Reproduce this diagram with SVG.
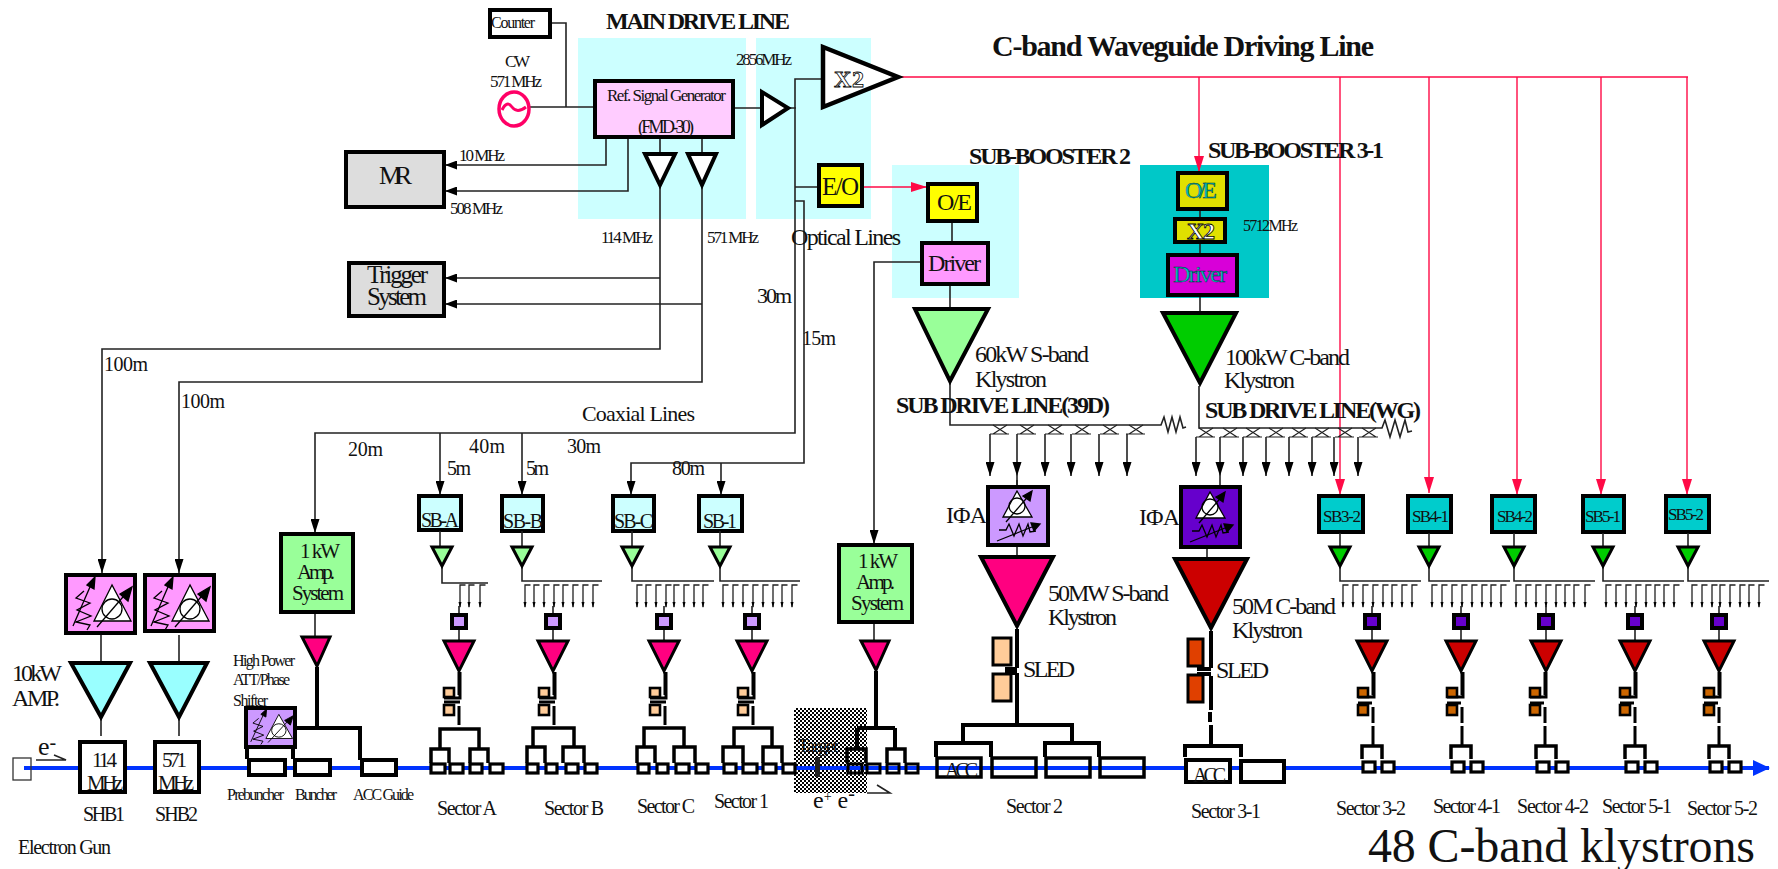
<svg xmlns="http://www.w3.org/2000/svg" width="1778" height="869" viewBox="0 0 1778 869">
<style>
text{font-family:"Liberation Serif","Times New Roman",serif;fill:#111}
.b{font-weight:bold}
.l,.l1,.l3,.r{fill:none;stroke-linejoin:miter}
.l{stroke:#222;stroke-width:1.6}
.l3{stroke:#000;stroke-width:4}
.r{stroke:#FF0A46;stroke-width:1.4}
.bx{stroke:#000;stroke-width:4}
.bx5{stroke:#000;stroke-width:4.5}
.w{fill:#fff}
.n{fill:none}
.o{fill:#FFF;stroke:#000;stroke-width:.8}
.c{fill:#00BFBF;stroke:#003333;stroke-width:.45}
</style>
<defs>
<pattern id="chk" width="4" height="4" patternUnits="userSpaceOnUse"><rect width="4" height="4" fill="#fff"/><rect width="2" height="2" fill="#000"/><rect x="2" y="2" width="2" height="2" fill="#000"/></pattern>
<marker id="a" markerUnits="userSpaceOnUse" markerWidth="12" markerHeight="9" refX="12" refY="4.5" orient="auto"><path d="M0,0L12,4.5L0,9z" fill="#000"/></marker>
<marker id="ad" markerUnits="userSpaceOnUse" markerWidth="14" markerHeight="9" refX="14" refY="4.5" orient="auto"><path d="M0,0L14,4.5L0,9z" fill="#000"/></marker>
<marker id="ar" markerUnits="userSpaceOnUse" markerWidth="16" markerHeight="10" refX="16" refY="5" orient="auto"><path d="M0,0L16,5L0,10z" fill="#FF0A46"/></marker>
<marker id="ab" markerUnits="userSpaceOnUse" markerWidth="17" markerHeight="16" refX="16" refY="8" orient="auto"><path d="M0,0L17,8L0,16z" fill="#0033FF"/></marker>
<g id="t"><path d="M0,607V585H5.5" fill="none" stroke="#222" stroke-width="1.3"/><path d="M-1.5,602L0,608L1.5,602z" fill="#000"/></g>
<g id="cp"><path d="M-7,0L7,9M7,0L-7,9M-10,9H9" fill="none" stroke="#222" stroke-width="1.2"/></g>
<g id="iconA" fill="none" stroke="#000" stroke-width="1.3"><path d="M47,11L29,47H66z" fill="#fff"/><circle cx="47" cy="35" r="10"/><path d="M32,53L64,16"/><path d="M55,20L67,13L63,27z" fill="#000"/><path d="M19,17L11,24L25,29L12,36L26,42L11,48L25,51L22,56"/><path d="M8,52L28,6"/><path d="M22,11L30,3L29,15z" fill="#000"/></g>
<g id="iconB" fill="none" stroke="#000" stroke-width="1.3"><path d="M30,5L16,31H45z" fill="#fff"/><circle cx="30" cy="20" r="8"/><path d="M19,36L44,7"/><path d="M36,10L45,5L43,15z" fill="#000"/><path d="M12,44L19,44L22,38L27,50L32,38L36,50L41,38L43,46L49,45"/><path d="M10,55L50,39"/><path d="M44,37L53,38L47,45z" fill="#000"/></g>
<g id="slS"><path d="M0,672V695M-15,698H1V672M-15,702H1M0,706L0,725" fill="none" stroke="#000" stroke-width="3"/><rect x="-15" y="688" width="10" height="9" fill="#FFCC99" stroke="#000" stroke-width="2.6"/><rect x="-15" y="705" width="10" height="10" fill="#FFCC99" stroke="#000" stroke-width="2.6"/></g>
<g id="slC"><path d="M0,672V695M-15,697H1V672M-15,703H-1M0,707V723M0,726V746" fill="none" stroke="#000" stroke-width="3"/><rect x="-15" y="688" width="10" height="9" fill="#CC6600" stroke="#000" stroke-width="2.6"/><rect x="-15" y="705" width="10" height="10" fill="#CC6600" stroke="#000" stroke-width="2.6"/></g>
<g id="pk"><path d="M0,606V615M0,629V640" class="l"/><rect x="-7" y="615" width="14" height="13" fill="#CC99FF" class="bx"/><path d="M-15,641H15L0,671z" fill="#FF0080" stroke="#000" stroke-width="3"/></g>
<g id="rk"><path d="M0,606V615M0,629V640" class="l"/><rect x="-7" y="615" width="14" height="13" fill="#6600CC" class="bx"/><path d="M-15,641H15L0,671z" fill="#CC0000" stroke="#000" stroke-width="3"/></g>
<g id="sbc"><path d="M0,533V546" class="l"/></g>
<g id="gtri"><path d="M-10,547H10L0,566z" fill="#99FF99" stroke="#000" stroke-width="3"/></g>
<g id="dtri"><path d="M-10,547H10L0,566z" fill="#00CC00" stroke="#000" stroke-width="3"/></g>
<g id="tree"><path d="M-10,759V746H10V759" fill="none" stroke="#000" stroke-width="3.5"/><rect x="-9" y="762" width="12" height="10" class="w" stroke="#000" stroke-width="3.2"/><rect x="10" y="762" width="12" height="10" class="w" stroke="#000" stroke-width="3.2"/></g>
</defs>

<g id="panels">
<rect x="578" y="38" width="168" height="181" fill="#CCFFFF"/>
<rect x="756" y="38" width="115" height="181" fill="#CCFFFF"/>
<rect x="892" y="165" width="127" height="133" fill="#CCFFFF"/>
<rect x="1140" y="165" width="129" height="133" fill="#00C8C8"/>
<rect x="794" y="708" width="73" height="85" fill="url(#chk)"/>
</g>

<g id="connectors">
<path class="l" d="M550,23H566V107M530,107H595M733,108H762M788,108H796M823,79H795V188M795,187H818"/>
<path class="l" d="M795,188V433H315V533" marker-end="url(#ad)"/>
<path class="l" d="M440,433V495" marker-end="url(#ad)"/>
<path class="l" d="M522,433V495" marker-end="url(#ad)"/>
<path class="l" d="M795,201H804V463H631V495" marker-end="url(#ad)"/>
<path class="l" d="M721,463V495" marker-end="url(#ad)"/>
<path class="l" d="M606,137V165H445" marker-end="url(#a)"/>
<path class="l" d="M628,137V191H445" marker-end="url(#a)"/>
<path class="l" d="M660,137V153M702,137V153"/>
<path class="l" d="M660,278H445" marker-end="url(#a)"/>
<path class="l" d="M702,304H445" marker-end="url(#a)"/>
<path class="l" d="M660,185V349H102V573" marker-end="url(#ad)"/>
<path class="l" d="M702,185V382H179V573" marker-end="url(#ad)"/>
<path class="l" d="M920,262H874V544" marker-end="url(#ad)"/>
<path class="r" d="M862,187H927" marker-end="url(#ar)"/>
<path class="r" d="M899,77H1688"/>
<path class="r" d="M1199,77V172" marker-end="url(#ar)"/>
<path class="r" d="M1340,77V495" marker-end="url(#ar)"/>
<path class="r" d="M1429,77V493" marker-end="url(#ar)"/>
<path class="r" d="M1517,77V495" marker-end="url(#ar)"/>
<path class="r" d="M1601,77V495" marker-end="url(#ar)"/>
<path class="r" d="M1687,77V495" marker-end="url(#ar)"/>
<path class="l" d="M952,221V242M950,284V308M950,383V425H1157"/>
<path class="l" d="M1157,425h4l3,-8l4,15l4,-15l4,15l4,-15l3,11l3,-1"/>
<use href="#cp" transform="translate(1000,425)"/><use href="#cp" transform="translate(1027,425)"/><use href="#cp" transform="translate(1055,425)"/><use href="#cp" transform="translate(1082,425)"/><use href="#cp" transform="translate(1110,425)"/><use href="#cp" transform="translate(1136,425)"/>
<path class="l" d="M990,434V476" marker-end="url(#ad)"/><path class="l" d="M1017,434V486"/><path d="M1012.5,462L1021.5,462L1017,476z" fill="#000"/><path class="l" d="M1045,434V476" marker-end="url(#ad)"/><path class="l" d="M1071,434V476" marker-end="url(#ad)"/><path class="l" d="M1099,434V476" marker-end="url(#ad)"/><path class="l" d="M1127,434V476" marker-end="url(#ad)"/>
<path class="l" d="M1200,209V218M1200,243V254M1200,296V312M1199,386V428H1377"/>
<path class="l" d="M1377,428h5l3,-8l5,17l5,-17l5,17l5,-17l3,12l4,-1"/>
<use href="#cp" transform="translate(1206,428)"/><use href="#cp" transform="translate(1230,428)"/><use href="#cp" transform="translate(1253,428)"/><use href="#cp" transform="translate(1276,428)"/><use href="#cp" transform="translate(1299,428)"/><use href="#cp" transform="translate(1322,428)"/><use href="#cp" transform="translate(1345,428)"/><use href="#cp" transform="translate(1369,428)"/>
<path class="l" d="M1196,437V476" marker-end="url(#ad)"/><path class="l" d="M1220,437V486"/><path d="M1215.5,462L1224.5,462L1220,476z" fill="#000"/><path class="l" d="M1243,437V476" marker-end="url(#ad)"/><path class="l" d="M1266,437V476" marker-end="url(#ad)"/><path class="l" d="M1289,437V476" marker-end="url(#ad)"/><path class="l" d="M1312,437V476" marker-end="url(#ad)"/><path class="l" d="M1334,437V476" marker-end="url(#ad)"/><path class="l" d="M1358,437V476" marker-end="url(#ad)"/>
<path class="l" d="M442,566V583H488M522,566V581H602M632,566V581H714M720,566V581H800"/>
<path class="l" d="M1340,566V581H1421M1429,566V581H1510M1514,566V581H1595M1603,566V581H1684M1688,566V581H1769"/>
<path class="l" d="M101,633V662M179,635V662M101,719V736M179,719V736M315,613V636M874,623V640M1017,480V556M1207,547V558"/>
<path class="l3" d="M317,667V728M296,728H360V760M247,747V759M293,747V759"/>
<path class="l3" d="M876,671V728M857,728H895M857,728V748M895,728V748"/>
<path d="M1017,629V668M1017,673V725M963,743V725H1072V743M936,757V743H991V757M1045,757V743H1099V757M1005,669H1017M1005,673H1017" class="l3"/>
<path d="M1211,631V668M1211,676V710M1210,712V722M1211,725V746M1185,757V746H1241V757M1197,669H1211M1197,674H1211" class="l3"/>
<path stroke="#0033FF" stroke-width="4" fill="none" d="M24,768H1769" marker-end="url(#ab)"/>
</g>

<g id="counter"><rect x="490" y="10" width="60" height="27" class="w bx"/><text x="491" y="28" font-size="16" textLength="44">Counter</text></g>
<g id="osc"><ellipse cx="514" cy="109" rx="15" ry="17" class="w" stroke="#FF0066" stroke-width="3.5"/><path d="M502,110Q507,100 512,107T526,107" fill="none" stroke="#FF0066" stroke-width="3"/><text x="505" y="67" font-size="17" textLength="25">CW</text><text x="490" y="87" font-size="17" textLength="52">571 MHz</text></g>
<g id="refgen"><rect x="595" y="81" width="138" height="56" fill="#FFCCFF" class="bx"/><text x="607" y="101" font-size="17" textLength="119">Ref. Signal Generator</text><text x="638" y="133" font-size="18" textLength="56">(FMD-30)</text></g>
<g id="buf"><path d="M762,92V125L788,108z" class="w bx"/></g>
<g id="x2main"><path d="M823,47V107L898,77z" class="w bx5"/><text x="834" y="87" font-size="24" textLength="30" class="o b">X2</text></g>
<g id="amp114"><path d="M645,154H675L660,185z" class="w bx"/></g>
<g id="amp571"><path d="M688,154H716L702,185z" class="w bx"/></g>
<g id="eo"><rect x="819" y="165" width="43" height="41" fill="#FFFF00" class="bx"/><text x="822" y="195" font-size="25" textLength="37">E/O</text></g>
<g id="mr"><rect x="346" y="152" width="98" height="55" fill="#DDDDDD" class="bx"/><text x="379" y="184" font-size="26" textLength="33">MR</text></g>
<g id="trigger"><rect x="349" y="263" width="95" height="53" fill="#DDDDDD" class="bx"/><text x="367" y="283" font-size="25" textLength="61">Trigger</text><text x="367" y="305" font-size="25" textLength="60">System</text></g>

<g id="sb2"><rect x="928" y="184" width="49" height="37" fill="#FFFF00" class="bx"/><text x="937" y="210" font-size="24" textLength="35">O/E</text><rect x="922" y="243" width="66" height="41" fill="#FF99FF" class="bx"/><text x="928" y="271" font-size="24" textLength="53">Driver</text><path d="M915,309H988L950,381z" fill="#99FF99" class="bx"/></g>
<g id="sb31"><rect x="1178" y="173" width="49" height="36" fill="#E0E000" class="bx"/><text x="1185" y="198" font-size="24" textLength="32" class="c">O/E</text><rect x="1175" y="219" width="50" height="23" fill="#E0E000" class="bx"/><text x="1187" y="239" font-size="24" textLength="28" class="o b">X2</text><rect x="1168" y="255" width="69" height="40" fill="#D800D8" class="bx"/><text x="1173" y="282" font-size="24" textLength="54" class="c">Driver</text><path d="M1163,313H1236L1200,383z" fill="#00CC00" class="bx"/></g>

<g id="phase1"><rect x="66" y="575" width="69" height="58" fill="#FF99FF" class="bx"/><use href="#iconA" transform="translate(65,574)"/></g>
<g id="phase2"><rect x="145" y="575" width="69" height="56" fill="#FF99FF" class="bx"/><use href="#iconA" transform="translate(143,574)"/></g>
<g id="amp10k1"><path d="M71,663H130L101,717z" fill="#99FFFF" class="bx"/></g>
<g id="amp10k2"><path d="M150,663H207L179,717z" fill="#99FFFF" class="bx"/></g>
<g id="gun"><rect x="13" y="758" width="18" height="22" class="n" stroke="#333" stroke-width="1.3"/></g>
<g id="shb1"><rect x="80" y="742" width="45" height="50" class="w bx"/><text x="92" y="767" font-size="21" textLength="25">114</text><text x="87" y="790" font-size="21" textLength="36">MHz</text></g>
<g id="shb2"><rect x="155" y="742" width="44" height="50" class="w bx"/><text x="162" y="767" font-size="21" textLength="25">571</text><text x="158" y="790" font-size="21" textLength="36">MHz</text></g>
<g id="hpatt"><rect x="246" y="708" width="49" height="39" fill="#CC99FF" class="bx"/><use href="#iconA" transform="translate(245,707) scale(.72,.67)"/></g>
<g id="prebuncher"><rect x="249" y="760" width="36" height="15" class="w bx"/></g>
<g id="buncher"><rect x="295" y="760" width="35" height="15" class="w bx"/></g>
<g id="accguide"><rect x="362" y="760" width="34" height="15" class="w bx"/></g>
<g id="amp1k1"><rect x="281" y="534" width="72" height="78" fill="#99FF99" class="bx"/><text x="300" y="558" font-size="21" textLength="40">1 kW</text><text x="297" y="579" font-size="21" textLength="38">Amp.</text><text x="292" y="600" font-size="21" textLength="52">System</text><path d="M302,637H330L317,666z" fill="#FF0080" stroke="#000" stroke-width="3"/></g>
<g id="amp1k2"><rect x="839" y="545" width="73" height="77" fill="#99FF99" class="bx"/><text x="858" y="568" font-size="21" textLength="40">1 kW</text><text x="856" y="589" font-size="21" textLength="39">Amp.</text><text x="851" y="610" font-size="21" textLength="53">System</text><path d="M861,641H889L876,670z" fill="#FF0080" stroke="#000" stroke-width="3"/></g>

<g id="sector-a"><rect x="419" y="496" width="42" height="34" fill="#CCFFFF" class="bx"/><text x="421" y="527" font-size="20" textLength="38">SB-A</text><path class="l" d="M440,531V547"/><use href="#gtri" transform="translate(442,0)"/><use href="#t" x="460"/><use href="#t" x="469"/><use href="#t" x="480"/><use href="#pk" transform="translate(459,0)"/><use href="#slS" transform="translate(459,0)"/><path d="M440,748V729H479V748M431,763V749H449V763M470,763V749H488V763" class="n" stroke="#000" stroke-width="3.5"/><rect x="431" y="764" width="14" height="9" class="w" stroke="#000" stroke-width="3.2"/><rect x="450" y="764" width="13" height="9" class="w" stroke="#000" stroke-width="3.2"/><rect x="470" y="764" width="12" height="9" class="w" stroke="#000" stroke-width="3.2"/><rect x="490" y="764" width="13" height="9" class="w" stroke="#000" stroke-width="3.2"/></g>
<g id="sector-b"><rect x="502" y="496" width="41" height="35" fill="#CCFFFF" class="bx"/><text x="503" y="528" font-size="20" textLength="40">SB-B</text><path class="l" d="M522,531V547"/><use href="#gtri" transform="translate(522,0)"/><use href="#t" x="525"/><use href="#t" x="534"/><use href="#t" x="544"/><use href="#t" x="554"/><use href="#t" x="563"/><use href="#t" x="573"/><use href="#t" x="583"/><use href="#t" x="593"/><use href="#pk" transform="translate(553,0)"/><use href="#slS" transform="translate(554,0)"/><path d="M533,747V728H574V747M527,763V747H545V763M563,763V747H584V763" class="n" stroke="#000" stroke-width="3.5"/><rect x="527" y="764" width="11" height="9" class="w" stroke="#000" stroke-width="3.2"/><rect x="546" y="764" width="11" height="9" class="w" stroke="#000" stroke-width="3.2"/><rect x="566" y="764" width="12" height="9" class="w" stroke="#000" stroke-width="3.2"/><rect x="585" y="764" width="12" height="9" class="w" stroke="#000" stroke-width="3.2"/></g>
<g id="sector-c"><rect x="613" y="496" width="41" height="35" fill="#CCFFFF" class="bx"/><text x="614" y="528" font-size="20" textLength="39">SB-C</text><path class="l" d="M632,531V547"/><use href="#gtri" transform="translate(632,0)"/><use href="#t" x="637"/><use href="#t" x="646"/><use href="#t" x="656"/><use href="#t" x="666"/><use href="#t" x="674"/><use href="#t" x="684"/><use href="#t" x="694"/><use href="#t" x="703"/><use href="#pk" transform="translate(664,0)"/><use href="#slS" transform="translate(665,0)"/><path d="M644,747V728H684V747M637,763V747H655V763M674,763V747H695V763" class="n" stroke="#000" stroke-width="3.5"/><rect x="638" y="764" width="11" height="9" class="w" stroke="#000" stroke-width="3.2"/><rect x="657" y="764" width="11" height="9" class="w" stroke="#000" stroke-width="3.2"/><rect x="676" y="764" width="13" height="9" class="w" stroke="#000" stroke-width="3.2"/><rect x="696" y="764" width="12" height="9" class="w" stroke="#000" stroke-width="3.2"/></g>
<g id="sector-1"><rect x="699" y="496" width="43" height="35" fill="#CCFFFF" class="bx"/><text x="703" y="528" font-size="20" textLength="34">SB-1</text><path class="l" d="M720,531V547"/><use href="#gtri" transform="translate(720,0)"/><use href="#t" x="723"/><use href="#t" x="733"/><use href="#t" x="743"/><use href="#t" x="753"/><use href="#t" x="763"/><use href="#t" x="773"/><use href="#t" x="782"/><use href="#t" x="792"/><use href="#pk" transform="translate(752,0)"/><use href="#slS" transform="translate(753,0)"/><path d="M734,747V728H772V747M723,763V747H743V763M763,763V747H782V763" class="n" stroke="#000" stroke-width="3.5"/><rect x="724" y="764" width="12" height="9" class="w" stroke="#000" stroke-width="3.2"/><rect x="743" y="764" width="14" height="9" class="w" stroke="#000" stroke-width="3.2"/><rect x="763" y="764" width="13" height="9" class="w" stroke="#000" stroke-width="3.2"/><rect x="783" y="764" width="12" height="9" class="w" stroke="#000" stroke-width="3.2"/></g>
<g id="target"><text x="798" y="752" font-size="18" textLength="40">Target</text><rect x="815" y="757" width="5" height="20" fill="#222"/><path d="M847,763V749H866V763M887,763V749H905V763" class="n" stroke="#000" stroke-width="3.5"/><rect x="848" y="764" width="14" height="9" class="n" stroke="#000" stroke-width="3"/><rect x="867" y="764" width="13" height="9" class="n" stroke="#000" stroke-width="3"/><rect x="887" y="764" width="12" height="9" class="n" stroke="#000" stroke-width="3"/><rect x="906" y="764" width="12" height="9" class="n" stroke="#000" stroke-width="3"/></g>

<g id="sector-2"><rect x="988" y="487" width="60" height="58" fill="#CC99FF" class="bx"/><use href="#iconB" transform="translate(987,486)"/><path d="M981,557H1053L1017,626z" fill="#FF0080" class="bx"/><rect x="993" y="638" width="18" height="27" fill="#FFCC99" stroke="#000" stroke-width="3"/><rect x="993" y="674" width="18" height="27" fill="#FFCC99" stroke="#000" stroke-width="3"/><rect x="937" y="758" width="44" height="19" class="n" stroke="#000" stroke-width="3.5"/><rect x="992" y="758" width="44" height="19" class="n" stroke="#000" stroke-width="3.5"/><rect x="1046" y="758" width="44" height="19" class="n" stroke="#000" stroke-width="3.5"/><rect x="1100" y="758" width="44" height="19" class="n" stroke="#000" stroke-width="3.5"/><text x="945" y="777" font-size="20" textLength="33">ACC</text></g>
<g id="sector-31"><rect x="1181" y="487" width="59" height="60" fill="#6600CC" class="bx"/><use href="#iconB" transform="translate(1180,487)"/><path d="M1175,559H1247L1211,628z" fill="#CC0000" class="bx"/><rect x="1188" y="639" width="15" height="27" fill="#E04000" stroke="#000" stroke-width="3"/><rect x="1188" y="675" width="15" height="27" fill="#E04000" stroke="#000" stroke-width="3"/><rect x="1186" y="760" width="44" height="22" class="w bx"/><rect x="1241" y="761" width="43" height="21" class="w bx"/><text x="1193" y="782" font-size="20" textLength="33">ACC</text></g>

<g id="sb32"><rect x="1319" y="496" width="44" height="36" fill="#00CCCC" class="bx"/><text x="1323" y="522" font-size="17" textLength="38">SB3-2</text><use href="#sbc" transform="translate(1340,0)"/><use href="#dtri" transform="translate(1340,0)"/><use href="#t" x="1343"/><use href="#t" x="1353"/><use href="#t" x="1363"/><use href="#t" x="1373"/><use href="#t" x="1383"/><use href="#t" x="1392"/><use href="#t" x="1402"/><use href="#t" x="1412"/><use href="#rk" transform="translate(1372,0)"/><use href="#slC" transform="translate(1373,0)"/><use href="#tree" transform="translate(1372,0)"/></g>
<g id="sb41"><rect x="1408" y="496" width="43" height="36" fill="#00CCCC" class="bx"/><text x="1412" y="522" font-size="17" textLength="37">SB4-1</text><use href="#sbc" transform="translate(1429,0)"/><use href="#dtri" transform="translate(1429,0)"/><use href="#t" x="1432"/><use href="#t" x="1442"/><use href="#t" x="1452"/><use href="#t" x="1462"/><use href="#t" x="1472"/><use href="#t" x="1482"/><use href="#t" x="1491"/><use href="#t" x="1501"/><use href="#rk" transform="translate(1461,0)"/><use href="#slC" transform="translate(1462,0)"/><use href="#tree" transform="translate(1461,0)"/></g>
<g id="sb42"><rect x="1492" y="496" width="43" height="36" fill="#00CCCC" class="bx"/><text x="1497" y="522" font-size="17" textLength="36">SB4-2</text><use href="#sbc" transform="translate(1514,0)"/><use href="#dtri" transform="translate(1514,0)"/><use href="#t" x="1516"/><use href="#t" x="1526"/><use href="#t" x="1536"/><use href="#t" x="1546"/><use href="#t" x="1556"/><use href="#t" x="1565"/><use href="#t" x="1574"/><use href="#t" x="1585"/><use href="#rk" transform="translate(1546,0)"/><use href="#slC" transform="translate(1545,0)"/><use href="#tree" transform="translate(1546,0)"/></g>
<g id="sb51"><rect x="1583" y="496" width="41" height="36" fill="#00CCCC" class="bx"/><text x="1585" y="522" font-size="17" textLength="36">SB5-1</text><use href="#sbc" transform="translate(1603,0)"/><use href="#dtri" transform="translate(1603,0)"/><use href="#t" x="1606"/><use href="#t" x="1616"/><use href="#t" x="1626"/><use href="#t" x="1636"/><use href="#t" x="1646"/><use href="#t" x="1655"/><use href="#t" x="1664"/><use href="#t" x="1674"/><use href="#rk" transform="translate(1635,0)"/><use href="#slC" transform="translate(1635,0)"/><use href="#tree" transform="translate(1635,0)"/></g>
<g id="sb52"><rect x="1666" y="496" width="43" height="36" fill="#00CCCC" class="bx"/><text x="1668" y="520" font-size="17" textLength="36">SB5-2</text><use href="#sbc" transform="translate(1688,0)"/><use href="#dtri" transform="translate(1688,0)"/><use href="#t" x="1692"/><use href="#t" x="1702"/><use href="#t" x="1712"/><use href="#t" x="1720"/><use href="#t" x="1730"/><use href="#t" x="1740"/><use href="#t" x="1749"/><use href="#t" x="1759"/><use href="#rk" transform="translate(1719,0)"/><use href="#slC" transform="translate(1719,0)"/><use href="#tree" transform="translate(1719,0)"/></g>

<g id="labels">
<text x="606" y="29" font-size="24" class="b" textLength="184">MAIN DRIVE LINE</text>
<text x="992" y="56" font-size="30" class="b" textLength="382">C-band Waveguide Driving Line</text>
<text x="969" y="164" font-size="24" class="b" textLength="162">SUB-BOOSTER 2</text>
<text x="1208" y="158" font-size="24" class="b" textLength="176">SUB-BOOSTER 3-1</text>
<text x="896" y="413" font-size="24" class="b" textLength="214">SUB DRIVE LINE(39D)</text>
<text x="1205" y="418" font-size="24" class="b" textLength="216">SUB DRIVE LINE(WG)</text>
<text x="736" y="65" font-size="17" textLength="56">2856MHz</text>
<text x="459" y="161" font-size="17" textLength="46">10 MHz</text>
<text x="450" y="214" font-size="17" textLength="53">508 MHz</text>
<text x="601" y="243" font-size="17" textLength="52">114 MHz</text>
<text x="707" y="243" font-size="17" textLength="52">571 MHz</text>
<text x="791" y="245" font-size="24" textLength="110">Optical Lines</text>
<text x="757" y="303" font-size="22" textLength="35">30m</text>
<text x="802" y="345" font-size="20" textLength="34">15m</text>
<text x="104" y="371" font-size="20" textLength="44">100m</text>
<text x="181" y="408" font-size="20" textLength="44">100m</text>
<text x="582" y="421" font-size="22" textLength="113">Coaxial Lines</text>
<text x="348" y="456" font-size="20" textLength="35">20m</text>
<text x="469" y="453" font-size="20" textLength="36">40m</text>
<text x="567" y="453" font-size="20" textLength="34">30m</text>
<text x="447" y="475" font-size="20" textLength="24">5m</text>
<text x="526" y="475" font-size="20" textLength="23">5m</text>
<text x="672" y="475" font-size="20" textLength="33">80m</text>
<text x="975" y="362" font-size="24" textLength="114">60kW S-band</text>
<text x="975" y="387" font-size="24" textLength="72">Klystron</text>
<text x="1225" y="365" font-size="24" textLength="125">100kW C-band</text>
<text x="1224" y="388" font-size="24" textLength="71">Klystron</text>
<text x="1243" y="231" font-size="16" textLength="55">5712MHz</text>
<text x="12" y="681" font-size="24" textLength="50">10kW</text>
<text x="12" y="706" font-size="24" textLength="48">AMP.</text>
<text x="233" y="666" font-size="16" textLength="62">High Power</text>
<text x="233" y="685" font-size="16" textLength="57">ATT/Phase</text>
<text x="233" y="706" font-size="16" textLength="35">Shifter</text>
<text x="227" y="800" font-size="16" textLength="57">Prebuncher</text>
<text x="295" y="800" font-size="16" textLength="42">Buncher</text>
<text x="353" y="800" font-size="16" textLength="61">ACC Guide</text>
<text x="83" y="821" font-size="20" textLength="42">SHB1</text>
<text x="155" y="821" font-size="20" textLength="43">SHB2</text>
<text x="18" y="854" font-size="20" textLength="93">Electron Gun</text>
<text x="38" y="755" font-size="26">e<tspan font-size="20" dy="-6">-</tspan></text>
<path class="l" d="M36,760H66L54,755"/>
<text x="813" y="808" font-size="24">e<tspan font-size="14" dy="-7">+</tspan><tspan dy="7"> e</tspan><tspan font-size="20" dy="-8">-</tspan></text>
<path class="l" d="M867,793H890L877,785"/>
<text x="437" y="815" font-size="20" textLength="60">Sector A</text>
<text x="544" y="815" font-size="20" textLength="60">Sector B</text>
<text x="637" y="813" font-size="20" textLength="58">Sector C</text>
<text x="714" y="808" font-size="20" textLength="55">Sector 1</text>
<text x="1006" y="813" font-size="20" textLength="57">Sector 2</text>
<text x="1191" y="818" font-size="20" textLength="70">Sector 3-1</text>
<text x="1336" y="815" font-size="20" textLength="70">Sector 3-2</text>
<text x="1433" y="813" font-size="20" textLength="68">Sector 4-1</text>
<text x="1517" y="813" font-size="20" textLength="72">Sector 4-2</text>
<text x="1602" y="813" font-size="20" textLength="70">Sector 5-1</text>
<text x="1687" y="815" font-size="20" textLength="71">Sector 5-2</text>
<text x="1368" y="862" font-size="48" textLength="387">48 C-band klystrons</text>
<text x="946" y="523" font-size="24" textLength="41">IΦA</text>
<text x="1048" y="601" font-size="24" textLength="121">50MW S-band</text>
<text x="1048" y="625" font-size="24" textLength="69">Klystron</text>
<text x="1023" y="677" font-size="24" textLength="52">SLED</text>
<text x="1139" y="525" font-size="24" textLength="41">IΦA</text>
<text x="1232" y="614" font-size="24" textLength="104">50M C-band</text>
<text x="1232" y="638" font-size="24" textLength="71">Klystron</text>
<text x="1216" y="678" font-size="24" textLength="53">SLED</text>
</g>
</svg>
